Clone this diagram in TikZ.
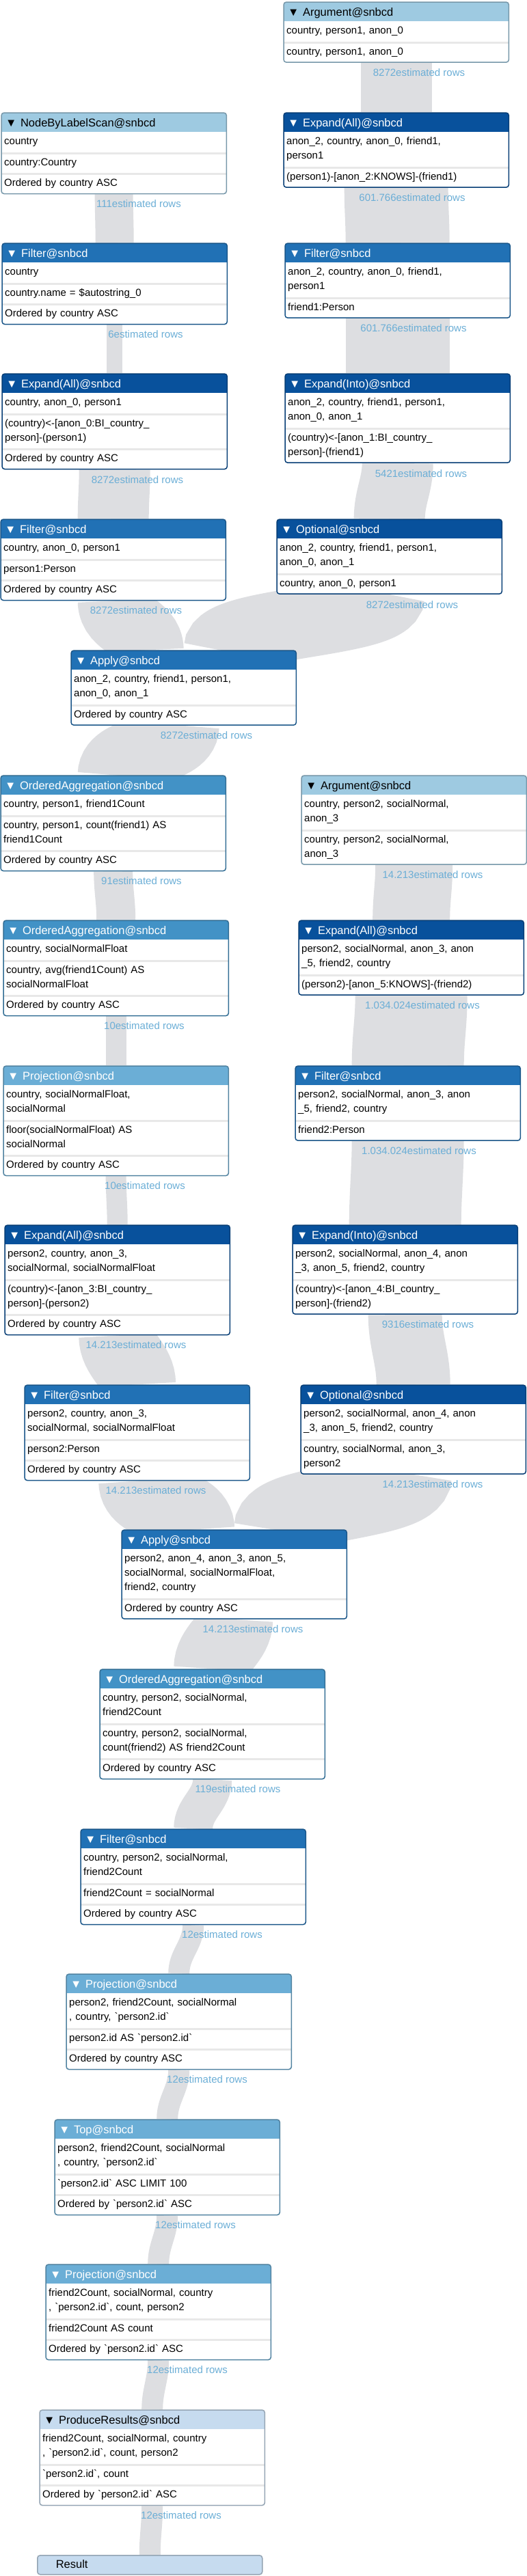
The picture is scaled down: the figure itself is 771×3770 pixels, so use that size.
\documentclass[tikz,border=0pt]{standalone}
\usepackage{fontspec}
\setmainfont{Liberation Sans}
\usepackage{xcolor}
\usepackage{tikz}
\usetikzlibrary{positioning, fit, backgrounds}

\definecolor{opLight}{HTML}{9ECAE1}
\definecolor{opDark}{HTML}{08519C}
\definecolor{opMid}{HTML}{2171B5}
\definecolor{opAgg}{HTML}{4292C6}
\definecolor{opProj}{HTML}{6BAED6}
\definecolor{opRes}{HTML}{C6DBEF}
\definecolor{flowGray}{HTML}{DDDEE1}
\definecolor{sepGray}{HTML}{E8E8E8}
\definecolor{estBlue}{HTML}{6BAED6}

\newcommand{\bqt}{\textasciigrave}

\begin{document}
\begin{tikzpicture}[
    x=1pt, y=1pt,
    hdr/.style={anchor=north west, minimum height=31pt, text width=317pt,
                inner xsep=6pt, inner ysep=0pt, text height=12pt, text depth=3pt,
                align=left, rounded corners=4pt,
                font=\fontsize{16.5}{20}\selectfont},
    hlight/.style={hdr, fill=opLight, text=black},
    hdark/.style={hdr, fill=opDark, text=white},
    hmid/.style={hdr, fill=opMid, text=white},
    hagg/.style={hdr, fill=opAgg, text=white},
    hproj/.style={hdr, fill=opProj, text=white},
    hres/.style={hdr, fill=opRes, text=black},
    row/.style={text width=321pt, inner xsep=4pt, inner ysep=4.5pt,
                align=left, fill=white, font=\fontsize{15}{21}\selectfont,
                execute at begin node=\strut, execute at end node=\strut},
    nrow/.style={row, path picture={\fill[sepGray] (path picture bounding box.north west)
                 rectangle ([yshift=-3pt]path picture bounding box.north east);}},
    frame/.style={draw=#1!75!black, line width=1.5pt, rounded corners=4pt, inner sep=0pt},
    flow/.style={draw=flowGray, line width=#1pt},
    sflow/.style={out=-90, in=90, max distance=40pt},
    est/.style={text=estBlue, inner sep=0pt, font=\fontsize{15}{18}\selectfont}
]
\useasboundingbox (0,0) rectangle (771,-3770);

% Argument (first branch)
\node[hlight] (arg1-h) at (415,-3) {▼ Argument@snbcd};
\node[row, below=-4pt of arg1-h] (arg1-1) {country, person1, anon\_0};
\node[nrow, below=0pt of arg1-1] (arg1-2) {country, person1, anon\_0};
\node[frame=opLight, fit=(arg1-h)(arg1-2)] (arg1) {};

% NodeByLabelScan
\node[hlight] (scan-h) at (2,-165) {▼ NodeByLabelScan@snbcd};
\node[row, below=-4pt of scan-h] (scan-1) {country};
\node[nrow, below=0pt of scan-1] (scan-2) {country:Country};
\node[nrow, below=0pt of scan-2] (scan-3) {Ordered by country ASC};
\node[frame=opLight, fit=(scan-h)(scan-3)] (scan) {};

% Expand(All) right
\node[hdark] (expA1-h) at (415,-165) {▼ Expand(All)@snbcd};
\node[row, below=-4pt of expA1-h] (expA1-1) {anon\_2, country, anon\_0, friend1,\\person1};
\node[nrow, below=0pt of expA1-1] (expA1-2) {(person1)-[anon\_2:KNOWS]-(friend1)};
\node[frame=opDark, fit=(expA1-h)(expA1-2)] (expA1) {};

% Filter left
\node[hmid] (fil1-h) at (3,-356) {▼ Filter@snbcd};
\node[row, below=-4pt of fil1-h] (fil1-1) {country};
\node[nrow, below=0pt of fil1-1] (fil1-2) {country.name = \$autostring\_0};
\node[nrow, below=0pt of fil1-2] (fil1-3) {Ordered by country ASC};
\node[frame=opMid, fit=(fil1-h)(fil1-3)] (fil1) {};

% Filter right
\node[hmid] (fil2-h) at (417,-356) {▼ Filter@snbcd};
\node[row, below=-4pt of fil2-h] (fil2-1) {anon\_2, country, anon\_0, friend1,\\person1};
\node[nrow, below=0pt of fil2-1] (fil2-2) {friend1:Person};
\node[frame=opMid, fit=(fil2-h)(fil2-2)] (fil2) {};

% Expand(All) left
\node[hdark] (expA2-h) at (3,-547) {▼ Expand(All)@snbcd};
\node[row, below=-4pt of expA2-h] (expA2-1) {country, anon\_0, person1};
\node[nrow, below=0pt of expA2-1] (expA2-2) {(country)<-[anon\_0:BI\_country\_\\person]-(person1)};
\node[nrow, below=0pt of expA2-2] (expA2-3) {Ordered by country ASC};
\node[frame=opDark, fit=(expA2-h)(expA2-3)] (expA2) {};

% Expand(Into) right
\node[hdark] (expI1-h) at (417,-547) {▼ Expand(Into)@snbcd};
\node[row, below=-4pt of expI1-h] (expI1-1) {anon\_2, country, friend1, person1,\\anon\_0, anon\_1};
\node[nrow, below=0pt of expI1-1] (expI1-2) {(country)<-[anon\_1:BI\_country\_\\person]-(friend1)};
\node[frame=opDark, fit=(expI1-h)(expI1-2)] (expI1) {};

% Filter left
\node[hmid] (fil3-h) at (1,-760) {▼ Filter@snbcd};
\node[row, below=-4pt of fil3-h] (fil3-1) {country, anon\_0, person1};
\node[nrow, below=0pt of fil3-1] (fil3-2) {person1:Person};
\node[nrow, below=0pt of fil3-2] (fil3-3) {Ordered by country ASC};
\node[frame=opMid, fit=(fil3-h)(fil3-3)] (fil3) {};

% Optional right
\node[hdark] (opt1-h) at (405,-760) {▼ Optional@snbcd};
\node[row, below=-4pt of opt1-h] (opt1-1) {anon\_2, country, friend1, person1,\\anon\_0, anon\_1};
\node[nrow, below=0pt of opt1-1] (opt1-2) {country, anon\_0, person1};
\node[frame=opDark, fit=(opt1-h)(opt1-2)] (opt1) {};

% Apply
\node[hmid] (apply1-h) at (104,-952) {▼ Apply@snbcd};
\node[row, below=-4pt of apply1-h] (apply1-1) {anon\_2, country, friend1, person1,\\anon\_0, anon\_1};
\node[nrow, below=0pt of apply1-1] (apply1-2) {Ordered by country ASC};
\node[frame=opMid, fit=(apply1-h)(apply1-2)] (apply1) {};
\coordinate (apply1-in1) at ([xshift=-52pt]apply1.north);
\coordinate (apply1-in2) at ([xshift=52pt]apply1.north);

% OrderedAggregation
\node[hagg] (agg1-h) at (1,-1135) {▼ OrderedAggregation@snbcd};
\node[row, below=-4pt of agg1-h] (agg1-1) {country, person1, friend1Count};
\node[nrow, below=0pt of agg1-1] (agg1-2) {country, person1, count(friend1) AS\\friend1Count};
\node[nrow, below=0pt of agg1-2] (agg1-3) {Ordered by country ASC};
\node[frame=opAgg, fit=(agg1-h)(agg1-3)] (agg1) {};

% Argument (second branch)
\node[hlight] (arg2-h) at (441,-1135) {▼ Argument@snbcd};
\node[row, below=-4pt of arg2-h] (arg2-1) {country, person2, socialNormal,\\anon\_3};
\node[nrow, below=0pt of arg2-1] (arg2-2) {country, person2, socialNormal,\\anon\_3};
\node[frame=opLight, fit=(arg2-h)(arg2-2)] (arg2) {};

% OrderedAggregation
\node[hagg] (agg2-h) at (5,-1347) {▼ OrderedAggregation@snbcd};
\node[row, below=-4pt of agg2-h] (agg2-1) {country, socialNormalFloat};
\node[nrow, below=0pt of agg2-1] (agg2-2) {country, avg(friend1Count) AS\\socialNormalFloat};
\node[nrow, below=0pt of agg2-2] (agg2-3) {Ordered by country ASC};
\node[frame=opAgg, fit=(agg2-h)(agg2-3)] (agg2) {};

% Expand(All) right
\node[hdark] (expA3-h) at (437,-1347) {▼ Expand(All)@snbcd};
\node[row, below=-4pt of expA3-h] (expA3-1) {person2, socialNormal, anon\_3, anon\\\_5, friend2, country};
\node[nrow, below=0pt of expA3-1] (expA3-2) {(person2)-[anon\_5:KNOWS]-(friend2)};
\node[frame=opDark, fit=(expA3-h)(expA3-2)] (expA3) {};

% Projection
\node[hproj] (proj1-h) at (5,-1560) {▼ Projection@snbcd};
\node[row, below=-4pt of proj1-h] (proj1-1) {country, socialNormalFloat,\\socialNormal};
\node[nrow, below=0pt of proj1-1] (proj1-2) {floor(socialNormalFloat) AS\\socialNormal};
\node[nrow, below=0pt of proj1-2] (proj1-3) {Ordered by country ASC};
\node[frame=opProj, fit=(proj1-h)(proj1-3)] (proj1) {};

% Filter right
\node[hmid] (fil4-h) at (432,-1560) {▼ Filter@snbcd};
\node[row, below=-4pt of fil4-h] (fil4-1) {person2, socialNormal, anon\_3, anon\\\_5, friend2, country};
\node[nrow, below=0pt of fil4-1] (fil4-2) {friend2:Person};
\node[frame=opMid, fit=(fil4-h)(fil4-2)] (fil4) {};

% Expand(All) left
\node[hdark] (expA4-h) at (7,-1793) {▼ Expand(All)@snbcd};
\node[row, below=-4pt of expA4-h] (expA4-1) {person2, country, anon\_3,\\socialNormal, socialNormalFloat};
\node[nrow, below=0pt of expA4-1] (expA4-2) {(country)<-[anon\_3:BI\_country\_\\person]-(person2)};
\node[nrow, below=0pt of expA4-2] (expA4-3) {Ordered by country ASC};
\node[frame=opDark, fit=(expA4-h)(expA4-3)] (expA4) {};

% Expand(Into) right
\node[hdark] (expI2-h) at (428,-1793) {▼ Expand(Into)@snbcd};
\node[row, below=-4pt of expI2-h] (expI2-1) {person2, socialNormal, anon\_4, anon\\\_3, anon\_5, friend2, country};
\node[nrow, below=0pt of expI2-1] (expI2-2) {(country)<-[anon\_4:BI\_country\_\\person]-(friend2)};
\node[frame=opDark, fit=(expI2-h)(expI2-2)] (expI2) {};

% Filter left
\node[hmid] (fil5-h) at (36,-2027) {▼ Filter@snbcd};
\node[row, below=-4pt of fil5-h] (fil5-1) {person2, country, anon\_3,\\socialNormal, socialNormalFloat};
\node[nrow, below=0pt of fil5-1] (fil5-2) {person2:Person};
\node[nrow, below=0pt of fil5-2] (fil5-3) {Ordered by country ASC};
\node[frame=opMid, fit=(fil5-h)(fil5-3)] (fil5) {};

% Optional right
\node[hdark] (opt2-h) at (440,-2027) {▼ Optional@snbcd};
\node[row, below=-4pt of opt2-h] (opt2-1) {person2, socialNormal, anon\_4, anon\\\_3, anon\_5, friend2, country};
\node[nrow, below=0pt of opt2-1] (opt2-2) {country, socialNormal, anon\_3,\\person2};
\node[frame=opDark, fit=(opt2-h)(opt2-2)] (opt2) {};

% Apply
\node[hmid] (apply2-h) at (178,-2239) {▼ Apply@snbcd};
\node[row, below=-4pt of apply2-h] (apply2-1) {person2, anon\_4, anon\_3, anon\_5,\\socialNormal, socialNormalFloat,\\friend2, country};
\node[nrow, below=0pt of apply2-1] (apply2-2) {Ordered by country ASC};
\node[frame=opMid, fit=(apply2-h)(apply2-2)] (apply2) {};
\coordinate (apply2-in1) at ([xshift=-56pt]apply2.north);
\coordinate (apply2-in2) at ([xshift=56pt]apply2.north);

% OrderedAggregation
\node[hagg] (agg3-h) at (146,-2443) {▼ OrderedAggregation@snbcd};
\node[row, below=-4pt of agg3-h] (agg3-1) {country, person2, socialNormal,\\friend2Count};
\node[nrow, below=0pt of agg3-1] (agg3-2) {country, person2, socialNormal,\\count(friend2) AS friend2Count};
\node[nrow, below=0pt of agg3-2] (agg3-3) {Ordered by country ASC};
\node[frame=opAgg, fit=(agg3-h)(agg3-3)] (agg3) {};

% Filter
\node[hmid] (fil6-h) at (118,-2677) {▼ Filter@snbcd};
\node[row, below=-4pt of fil6-h] (fil6-1) {country, person2, socialNormal,\\friend2Count};
\node[nrow, below=0pt of fil6-1] (fil6-2) {friend2Count = socialNormal};
\node[nrow, below=0pt of fil6-2] (fil6-3) {Ordered by country ASC};
\node[frame=opMid, fit=(fil6-h)(fil6-3)] (fil6) {};

% Projection
\node[hproj] (proj2-h) at (97,-2889) {▼ Projection@snbcd};
\node[row, below=-4pt of proj2-h] (proj2-1) {person2, friend2Count, socialNormal\\, country, \bqt person2.id\bqt};
\node[nrow, below=0pt of proj2-1] (proj2-2) {person2.id AS \bqt person2.id\bqt};
\node[nrow, below=0pt of proj2-2] (proj2-3) {Ordered by country ASC};
\node[frame=opProj, fit=(proj2-h)(proj2-3)] (proj2) {};

% Top
\node[hproj] (top-h) at (80,-3102) {▼ Top@snbcd};
\node[row, below=-4pt of top-h] (top-1) {person2, friend2Count, socialNormal\\, country, \bqt person2.id\bqt};
\node[nrow, below=0pt of top-1] (top-2) {\bqt person2.id\bqt{} ASC LIMIT 100};
\node[nrow, below=0pt of top-2] (top-3) {Ordered by \bqt person2.id\bqt{} ASC};
\node[frame=opProj, fit=(top-h)(top-3)] (top) {};

% Projection
\node[hproj] (proj3-h) at (67,-3314) {▼ Projection@snbcd};
\node[row, below=-4pt of proj3-h] (proj3-1) {friend2Count, socialNormal, country\\, \bqt person2.id\bqt, count, person2};
\node[nrow, below=0pt of proj3-1] (proj3-2) {friend2Count AS count};
\node[nrow, below=0pt of proj3-2] (proj3-3) {Ordered by \bqt person2.id\bqt{} ASC};
\node[frame=opProj, fit=(proj3-h)(proj3-3)] (proj3) {};

% ProduceResults
\node[hres] (prod-h) at (58,-3527) {▼ ProduceResults@snbcd};
\node[row, below=-4pt of prod-h] (prod-1) {friend2Count, socialNormal, country\\, \bqt person2.id\bqt, count, person2};
\node[nrow, below=0pt of prod-1] (prod-2) {\bqt person2.id\bqt, count};
\node[nrow, below=0pt of prod-2] (prod-3) {Ordered by \bqt person2.id\bqt{} ASC};
\node[frame=opRes, fit=(prod-h)(prod-3)] (prod) {};

% Result
\node[hres, minimum height=28pt, draw=opRes!75!black, line width=1.5pt] (result) at (54,-3739) {\hspace*{21pt}Result};

% Row estimates
\node[est] (est1)  at (613,-106)  {8272estimated rows};
\node[est] (est2)  at (203,-298)  {111estimated rows};
\node[est] (est3)  at (603,-289)  {601.766estimated rows};
\node[est] (est4)  at (213,-489)  {6estimated rows};
\node[est] (est5)  at (605,-480)  {601.766estimated rows};
\node[est] (est6)  at (201,-702)  {8272estimated rows};
\node[est] (est7)  at (616,-693)  {5421estimated rows};
\node[est] (est8)  at (199,-893)  {8272estimated rows};
\node[est] (est9)  at (603,-885)  {8272estimated rows};
\node[est] (est10) at (302,-1076) {8272estimated rows};
\node[est] (est11) at (207,-1289) {91estimated rows};
\node[est] (est12) at (633,-1280) {14.213estimated rows};
\node[est] (est13) at (211,-1501) {10estimated rows};
\node[est] (est14) at (618,-1471) {1.034.024estimated rows};
\node[est] (est15) at (212,-1735) {10estimated rows};
\node[est] (est16) at (613,-1684) {1.034.024estimated rows};
\node[est] (est17) at (199,-1968) {14.213estimated rows};
\node[est] (est18) at (626,-1938) {9316estimated rows};
\node[est] (est19) at (228,-2181) {14.213estimated rows};
\node[est] (est20) at (633,-2172) {14.213estimated rows};
\node[est] (est21) at (370,-2384) {14.213estimated rows};
\node[est] (est22) at (348,-2618) {119estimated rows};
\node[est] (est23) at (325,-2831) {12estimated rows};
\node[est] (est24) at (303,-3043) {12estimated rows};
\node[est] (est25) at (286,-3256) {12estimated rows};
\node[est] (est26) at (274,-3468) {12estimated rows};
\node[est] (est27) at (265,-3681) {12estimated rows};

% Row flows
\begin{scope}[on background layer]
\draw[flow=104] (arg1.south)   to[sflow] (expA1.north);
\draw[flow=56]  (scan.south)   to[sflow] (fil1.north);
\draw[flow=152] (expA1.south)  to[sflow] (fil2.north);
\draw[flow=23]  (fil1.south)   to[sflow] (expA2.north);
\draw[flow=152] (fil2.south)   to[sflow] (expI1.north);
\draw[flow=104] (expA2.south)  to[sflow] (fil3.north);
\draw[flow=104] (expI1.south)  to[sflow] (opt1.north);
\draw[flow=104] (fil3.south)   to[sflow] (apply1-in1);
\draw[flow=104] (opt1.south)   to[sflow] (apply1-in2);
\draw[flow=104] (apply1.south) to[sflow] (agg1.north);
\draw[flow=57]  (agg1.south)   to[sflow] (agg2.north);
\draw[flow=113] (arg2.south)   to[sflow] (expA3.north);
\draw[flow=30]  (agg2.south)   to[sflow] (proj1.north);
\draw[flow=164] (expA3.south)  to[sflow] (fil4.north);
\draw[flow=30]  (proj1.south)  to[sflow] (expA4.north);
\draw[flow=164] (fil4.south)   to[sflow] (expI2.north);
\draw[flow=113] (expA4.south)  to[sflow] (fil5.north);
\draw[flow=108] (expI2.south)  to[sflow] (opt2.north);
\draw[flow=113] (fil5.south)   to[sflow] (apply2-in1);
\draw[flow=113] (opt2.south)   to[sflow] (apply2-in2);
\draw[flow=113] (apply2.south) to[sflow] (agg3.north);
\draw[flow=57]  (agg3.south)   to[sflow] (fil6.north);
\draw[flow=31]  (fil6.south)   to[sflow] (proj2.north);
\draw[flow=31]  (proj2.south)  to[sflow] (top.north);
\draw[flow=31]  (top.south)    to[sflow] (proj3.north);
\draw[flow=31]  (proj3.south)  to[sflow] (prod.north);
\draw[flow=31]  (prod.south)   to[sflow] (result.north);
\end{scope}

\end{tikzpicture}
\end{document}
